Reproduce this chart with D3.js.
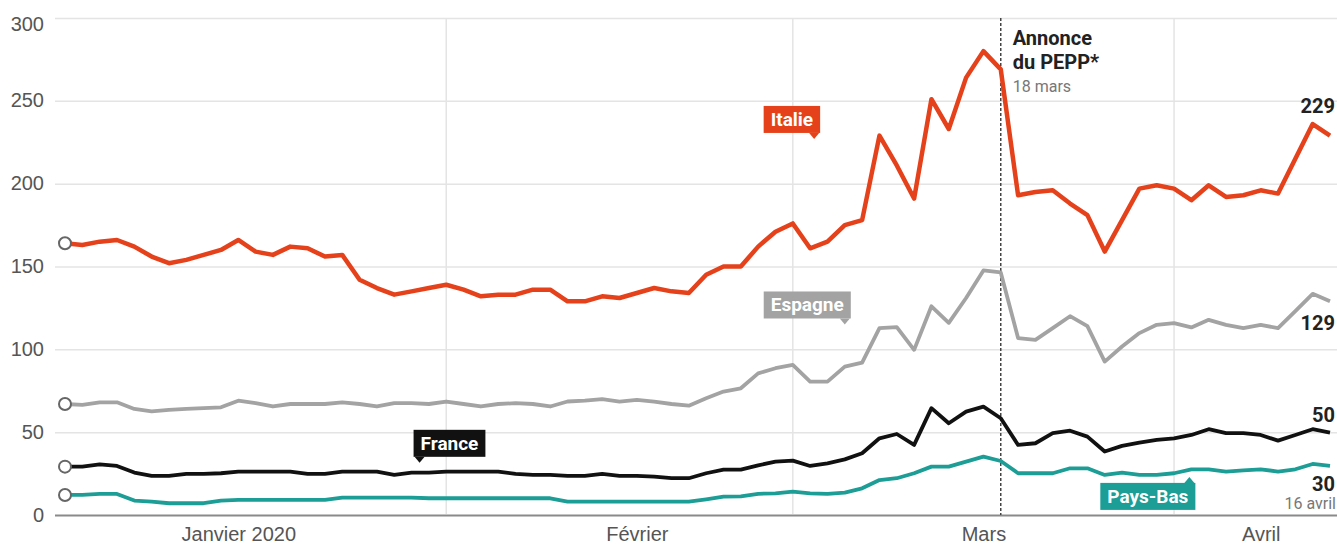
<!DOCTYPE html>
<html>
<head>
<meta charset="utf-8">
<script src="https://cdn.jsdelivr.net/npm/d3@7"></script>
<style>
  body { margin: 0; background: #fff; }
  svg { display: block; font-family: Roboto, "Noto Sans", sans-serif; }
</style>
</head>
<body>
<svg id="chart"></svg>
<script>
// business days, 2 janvier -> 16 avril 2020
var dates = [
  "2020-01-02","2020-01-03","2020-01-06","2020-01-07","2020-01-08","2020-01-09","2020-01-10",
  "2020-01-13","2020-01-14","2020-01-15","2020-01-16","2020-01-17","2020-01-20","2020-01-21",
  "2020-01-22","2020-01-23","2020-01-24","2020-01-27","2020-01-28","2020-01-29","2020-01-30",
  "2020-01-31",
  "2020-02-03","2020-02-04","2020-02-05","2020-02-06","2020-02-07","2020-02-10","2020-02-11",
  "2020-02-12","2020-02-13","2020-02-14","2020-02-17","2020-02-18","2020-02-19","2020-02-20",
  "2020-02-21","2020-02-24","2020-02-25","2020-02-26","2020-02-27","2020-02-28",
  "2020-03-02","2020-03-03","2020-03-04","2020-03-05","2020-03-06","2020-03-09","2020-03-10",
  "2020-03-11","2020-03-12","2020-03-13","2020-03-16","2020-03-17","2020-03-18","2020-03-19",
  "2020-03-20","2020-03-23","2020-03-24","2020-03-25","2020-03-26","2020-03-27","2020-03-30",
  "2020-03-31",
  "2020-04-01","2020-04-02","2020-04-03","2020-04-06","2020-04-07","2020-04-08","2020-04-09",
  "2020-04-14","2020-04-15","2020-04-16"
];

var italie = [164,163,165,166,162,156,152,154,157,160,166,159,157,162,161,156,157,142,137,133,
  135,137,139,136,132,133,133,136,136,129,129,132,131,134,137,135,134,145,150,150,
  162,171,176,161,165,175,178,229,211,191,251,233,264,280,269,193,195,196,188,181,
  159,178,197,199,197,190,199,192,193,196,194,215,236,229];

var espagne = [67,66.5,68,68,64,62.5,63.5,64,64.5,65,69,67.5,65.5,67,67,67,68,67,65.5,67.5,
  67.5,67,68.5,67,65.5,67,67.5,67,65.5,68.5,69,70,68.5,69.5,68.5,67,66,70.5,74.5,76.5,
  85.5,88.6,90.6,80.5,80.5,89.6,92,112.8,113.4,99.7,126,116,131,147.6,146.4,106.8,105.7,112.8,120,114,
  92.6,101.7,109.8,114.8,115.8,113.2,117.8,114.8,112.8,114.8,112.8,123,133.5,129];

var france = [29.2,29.2,30.6,29.6,25.6,23.6,23.6,24.8,24.8,25.2,26.2,26.2,26.2,26.2,24.8,24.8,26.2,26.2,26.2,24.2,
  25.6,25.6,26.2,26.2,26.2,26.2,24.8,24.2,24.2,23.6,23.6,24.8,23.6,23.6,23.2,22.2,22.2,25.2,27.4,27.4,
  30,32.2,32.8,29.6,31.2,33.6,37.3,46.3,48.9,42.3,64.5,55.4,62.4,65.4,58.4,42.3,43.3,49.4,50.9,47.3,
  38.3,41.7,43.7,45.3,46.3,48.3,51.8,49.4,49.4,48.3,44.9,48.3,51.8,49.7];

var paysBas = [12.1,12.1,12.7,12.7,8.7,8.1,7.1,7.1,7.1,8.7,9.1,9.1,9.1,9.1,9.1,9.1,10.5,10.5,10.5,10.5,
  10.5,10.1,10.1,10.1,10.1,10.1,10.1,10.1,10.1,8.1,8.1,8.1,8.1,8.1,8.1,8.1,8.1,9.5,11.1,11.3,
  12.8,13.1,14.1,13.1,12.7,13.5,16.1,21.1,22.2,25.2,29.2,29.2,32.2,35.2,32.6,25.2,25.2,25.2,28.2,28.2,
  24.2,25.6,24.2,24.2,25.2,27.6,27.6,26.2,27,27.6,26.2,27.6,30.8,29.6];

var yTicks = [0, 50, 100, 150, 200, 250, 300];
var monthStarts = ["2020-02-03", "2020-03-02", "2020-04-01"];
var monthLabels = ["Janvier 2020", "Février", "Mars", "Avril"];
var monthLabelDates = ["2020-01-16", "2020-02-18", "2020-03-17", "2020-04-08"];
var endLabels = ["229", "129", "50", "30"];
var peppDate = "2020-03-18";

var series = [
  {name: "Pays-Bas", values: paysBas, color: "#1c9d95"},
  {name: "France", values: france, color: "#111111"},
  {name: "Espagne", values: espagne, color: "#a3a3a3"},
  {name: "Italie", values: italie, color: "#e5411b"}
];

var width = 1337, height = 545;
var margin = {top: 18, right: 7, bottom: 30, left: 55};

var svg = d3.select('#chart')
  .attr('width', width)
  .attr('height', height);

var xScale = d3.scalePoint()
  .domain(dates)
  .range([65, 1330]);

var yScale = d3.scaleLinear()
  .domain([0, 300])
  .range([height - margin.bottom, margin.top]);

// horizontal grid + y labels
var yAxis = d3.axisLeft(yScale)
  .tickValues(yTicks)
  .tickSize(-(width - margin.left))
  .tickPadding(11);

var gy = svg.append('g')
  .attr('transform', 'translate(' + margin.left + ',0)')
  .call(yAxis);
gy.select('.domain').remove();
gy.selectAll('.tick line')
  .attr('stroke', d => d === 0 ? '#8a8a8a' : '#e4e4e4')
  .attr('stroke-width', d => d === 0 ? 2 : 1.5);
gy.selectAll('.tick text')
  .attr('fill', '#555')
  .style('font-size', '20px')
  .attr('dy', d => d === 300 ? '0.62em' : '0.3em');

// vertical month lines
svg.append('g')
  .selectAll('line')
  .data(monthStarts)
  .enter()
  .append('line')
    .attr('x1', d => xScale(d))
    .attr('x2', d => xScale(d))
    .attr('y1', yScale(300))
    .attr('y2', yScale(0) - 1)
    .attr('stroke', '#e4e4e4')
    .attr('stroke-width', 1.5);

// month labels
var xAxis = d3.axisBottom(xScale)
  .tickValues(monthLabelDates)
  .tickSize(0)
  .tickPadding(12)
  .tickFormat((d, i) => monthLabels[i]);

var gx = svg.append('g')
  .attr('transform', 'translate(0,' + yScale(0) + ')')
  .call(xAxis);
gx.select('.domain').remove();
gx.selectAll('.tick text')
  .attr('fill', '#555')
  .style('font-size', '20px');

// PEPP line
svg.append('line')
  .attr('x1', xScale(peppDate))
  .attr('x2', xScale(peppDate))
  .attr('y1', yScale(300))
  .attr('y2', yScale(0))
  .attr('stroke', '#444')
  .attr('stroke-width', 1.5)
  .attr('stroke-dasharray', '3,2');

var ann = svg.append('g')
  .attr('transform', 'translate(' + (xScale(peppDate) + 12) + ',0)');
ann.append('text').attr('y', 45).text('Annonce')
  .style('font-size', '20px').style('font-weight', 700).attr('fill', '#222');
ann.append('text').attr('y', 69).text('du PEPP*')
  .style('font-size', '20px').style('font-weight', 700).attr('fill', '#222');
ann.append('text').attr('y', 92).text('18 mars')
  .style('font-size', '16px').attr('fill', '#777');

// lines
var line = d3.line()
  .x((d, i) => xScale(dates[i]))
  .y(d => yScale(d))
  .curve(d3.curveLinear);

svg.append('g')
  .selectAll('path')
  .data(series)
  .enter()
  .append('path')
    .attr('d', d => line(d.values))
    .attr('fill', 'none')
    .attr('stroke', d => d.color)
    .attr('stroke-width', d => d.name === 'Italie' ? 4.5 : 3.8)
    .attr('stroke-linejoin', 'round');

// start circles
svg.append('g')
  .selectAll('circle')
  .data(series)
  .enter()
  .append('circle')
    .attr('cx', xScale(dates[0]))
    .attr('cy', d => yScale(d.values[0]))
    .attr('r', 6)
    .attr('fill', '#fff')
    .attr('stroke', '#666')
    .attr('stroke-width', 2);

// end values
var last = dates.length - 1;
var endOffsets = {"Italie": -23, "Espagne": 29, "France": -11, "Pays-Bas": 25};
var endOrder = ["Italie", "Espagne", "France", "Pays-Bas"];
endOrder.forEach(function(name, i) {
  var s = series.find(d => d.name === name);
  svg.append('text')
    .attr('x', width - 2)
    .attr('y', yScale(s.values[last]) + endOffsets[name])
    .attr('text-anchor', 'end')
    .style('font-size', '20px')
    .style('font-weight', 700)
    .attr('fill', '#222')
    .text(endLabels[i]);
});
svg.append('text')
  .attr('x', width - 1)
  .attr('y', yScale(paysBas[last]) + 43)
  .attr('text-anchor', 'end')
  .style('font-size', '16px')
  .attr('fill', '#777')
  .text('16 avril');

// series tags (box + little pointer)
var tags = [
  {name: "Italie", date: "2020-03-03", dx: 4, value: 227, color: "#e5411b", up: false, side: "right"},
  {name: "Espagne", date: "2020-03-05", dx: 0, value: 115, color: "#a3a3a3", up: false, side: "right"},
  {name: "France", date: "2020-01-30", dx: 8, value: 31.5, color: "#111111", up: false, side: "left"},
  {name: "Pays-Bas", date: "2020-04-02", dx: -2, value: 23, color: "#1c9d95", up: true, side: "right"}
];

tags.forEach(function(t) {
  var tx = xScale(t.date) + t.dx;
  var ty = yScale(t.value);
  var g = svg.append('g');
  var txt = g.append('text')
    .text(t.name)
    .attr('fill', '#fff')
    .style('font-size', '19px')
    .style('font-weight', 700);
  var w = txt.node().getComputedTextLength() + 14;
  var h = 27;
  var left = t.side === 'right' ? tx - w + 6 : tx - 6;
  var top = t.up ? ty + 6 : ty - 6 - h;
  g.insert('rect', 'text')
    .attr('x', left).attr('y', top)
    .attr('width', w).attr('height', h)
    .attr('fill', t.color);
  var tip = t.up
    ? [[tx - 5, top], [tx, ty], [tx + 5, top]]
    : [[tx - 5, top + h], [tx, ty], [tx + 5, top + h]];
  g.insert('path', 'text')
    .attr('d', d3.line()(tip) + 'Z')
    .attr('fill', t.color);
  txt.attr('x', left + 7).attr('y', top + 20);
});
</script>
</body>
</html>
